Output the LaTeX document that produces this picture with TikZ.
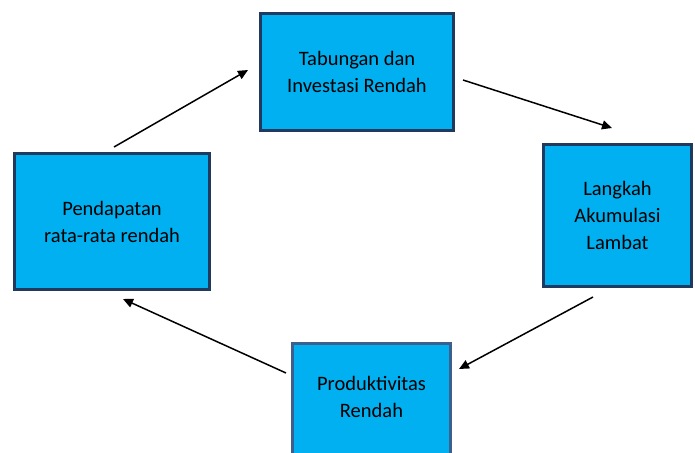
\documentclass[tikz,border=0pt]{standalone}
\usepackage{fontspec}
\setmainfont{Carlito}
\usetikzlibrary{arrows.meta}
\definecolor{boxfill}{HTML}{00B0F0}
\definecolor{boxline}{HTML}{203A5F}
\definecolor{boxlinelight}{HTML}{3D5F8E}
\tikzset{
  cyclebox/.style={draw=boxline, line width=3pt, fill=boxfill, inner sep=0pt,
    align=center, font=\fontsize{20.5}{27}\selectfont, text=black},
  flow/.style={line width=1.5pt, -{Triangle[length=10pt,width=9pt]}}
}
\begin{document}
\begin{tikzpicture}[x=1pt,y=-1pt]
\useasboundingbox (0,0) rectangle (695,452);
\node[cyclebox, minimum width=193pt, minimum height=117pt] (top) at (357,72) {Tabungan dan\\Investasi Rendah};
\node[cyclebox, minimum width=148pt, minimum height=142pt] (right) at (617.5,215.5) {Langkah\\Akumulasi\\Lambat};
\node[cyclebox, draw=boxlinelight, minimum width=158pt, minimum height=130pt] (bottom) at (371.5,408) {};
\node[align=center, font=\fontsize{20.5}{27}\selectfont] (bottomtext) at (371.5,397) {Produktivitas\\Rendah};
\node[cyclebox, minimum width=195pt, minimum height=136pt] (left) at (112,221.5) {Pendapatan\\rata-rata rendah};
\coordinate (a1s) at (114,147);
\coordinate (a1e) at (248,70);
\coordinate (a2s) at (463,80);
\coordinate (a2e) at (612,128);
\coordinate (a3s) at (593,297);
\coordinate (a3e) at (459,369);
\coordinate (a4s) at (286,373);
\coordinate (a4e) at (123,299);
\draw[flow] (a1s) -- (a1e);
\draw[flow] (a2s) -- (a2e);
\draw[flow] (a3s) -- (a3e);
\draw[flow] (a4s) -- (a4e);
\end{tikzpicture}
\end{document}
